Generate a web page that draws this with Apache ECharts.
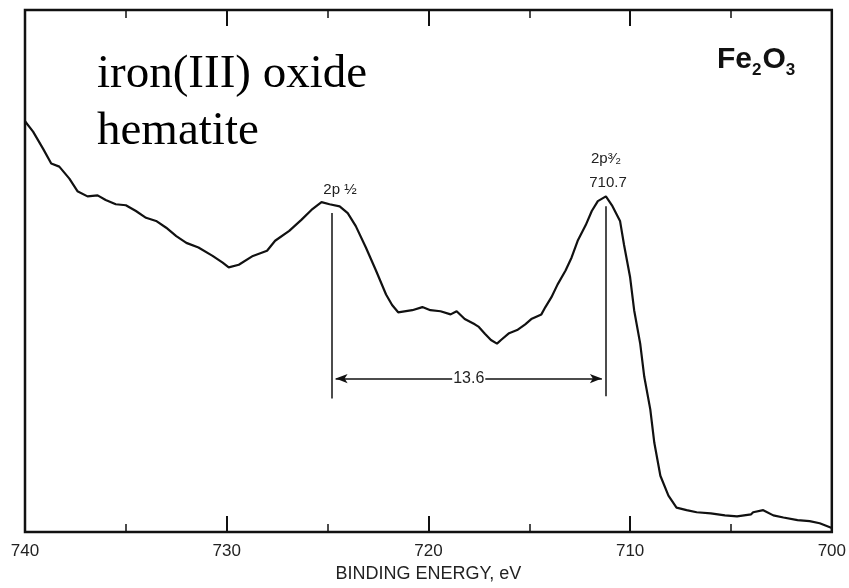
<!DOCTYPE html>
<html>
<head>
<meta charset="utf-8">
<script src="https://cdn.jsdelivr.net/npm/echarts@6/dist/echarts.min.js"></script>
<style>html,body{margin:0;padding:0;background:#fff;}#c{width:849px;height:588px;}</style>
</head>
<body>
<div id="c"></div>
<script>
// Binding energy (eV) and intensity (arbitrary units, 0-100)
var energy = [740.0,739.6,739.1,738.7,738.3,737.8,737.4,736.9,736.4,736.0,735.5,735.0,734.5,734.0,733.5,733.0,732.5,732.0,731.4,730.7,730.2,729.9,729.4,728.7,728.0,727.6,726.9,726.3,725.8,725.3,724.9,724.4,724.0,723.6,723.1,722.6,722.1,721.8,721.5,720.8,720.3,719.9,719.4,718.9,718.6,718.2,717.7,717.5,717.2,716.9,716.6,716.4,716.0,715.6,715.2,714.9,714.4,714.2,713.9,713.6,713.2,712.9,712.6,712.2,711.9,711.6,711.2,710.9,710.5,710.3,710.0,709.8,709.5,709.3,709.0,708.8,708.5,708.1,707.7,707.2,706.7,706.0,705.3,704.7,704.0,703.9,703.4,702.9,702.4,701.7,701.1,700.6,700.0];
var intensity = [78.7,76.7,73.4,70.6,70.0,67.7,65.3,64.3,64.5,63.6,62.8,62.6,61.5,60.2,59.6,58.3,56.7,55.4,54.5,52.9,51.6,50.7,51.2,52.9,53.9,55.8,57.7,59.8,61.7,63.2,62.8,62.4,61.1,58.6,54.5,50.1,45.5,43.5,42.1,42.5,43.1,42.5,42.3,41.7,42.3,40.8,39.8,39.3,38.0,36.8,36.1,36.8,38.1,38.7,39.8,40.8,41.7,43.1,45.0,47.4,50.1,52.6,55.8,58.8,61.5,63.4,64.3,62.6,59.6,55.0,48.8,42.5,36.1,29.8,23.5,17.1,10.8,7.0,4.7,4.2,3.8,3.6,3.2,3.0,3.4,3.8,4.2,3.2,2.8,2.3,2.1,1.7,0.8];
var xTicks = [740, 730, 720, 710, 700];
// peak markers: [energy, bottom, top]
var peakLines = [[724.8, 25.6, 61.1], [711.2, 26.0, 62.4]];
// splitting arrow: [from energy, to energy, level, label]
var splitArrow = [724.6, 711.4, 29.4, '13.6'];

var chart = echarts.init(document.getElementById('c'), null, {renderer: 'canvas'});
var ink = '#111';
var tickFont = {color: '#222', fontSize: 17, fontFamily: 'Liberation Sans'};
var xBase = {
  type: 'value', min: 700, max: 740, interval: 10, inverse: true,
  axisLine: {show: false},
  axisTick: {show: true, inside: true, length: 16, lineStyle: {color: ink, width: 2}},
  minorTick: {show: true, splitNumber: 2, length: 8, lineStyle: {color: ink, width: 1.5}},
  splitLine: {show: false}, minorSplitLine: {show: false}
};
var option = {
  animation: false,
  backgroundColor: '#fff',
  grid: {left: 25, right: 14, top: 10, bottom: 46, show: true, borderColor: ink, borderWidth: 2.5, backgroundColor: 'transparent'},
  xAxis: [
    Object.assign({}, xBase, {
      position: 'bottom',
      axisLabel: Object.assign({show: true, margin: 11, formatter: function (v) { return xTicks.indexOf(v) >= 0 ? String(v) : ''; }}, tickFont),
      name: 'BINDING ENERGY, eV', nameLocation: 'middle', nameGap: 32,
      nameTextStyle: {color: '#222', fontSize: 18, fontFamily: 'Liberation Sans'}
    }),
    Object.assign({}, xBase, {position: 'top', axisLabel: {show: false}})
  ],
  yAxis: {type: 'value', min: 0, max: 100, axisLine: {show: false}, axisTick: {show: false}, axisLabel: {show: false}, splitLine: {show: false}},
  series: [{
    type: 'line', xAxisIndex: 0,
    data: energy.map(function (e, i) { return [e, intensity[i]]; }),
    showSymbol: false, smooth: false,
    lineStyle: {color: ink, width: 2.2},
    markLine: {
      silent: true, symbol: ['none', 'none'],
      lineStyle: {color: ink, width: 1.5, type: 'solid'},
      label: {show: false},
      data: peakLines.map(function (p) {
        return [{coord: [p[0], p[1]]}, {coord: [p[0], p[2]]}];
      }).concat([[
        {coord: [splitArrow[0], splitArrow[2]], symbol: 'arrow', symbolSize: [7, 12]},
        {coord: [splitArrow[1], splitArrow[2]], symbol: 'arrow', symbolSize: [7, 12],
         label: {show: true, position: 'middle', formatter: splitArrow[3], color: '#222', fontSize: 16, fontFamily: 'Liberation Sans', backgroundColor: '#fff', padding: [1, 1], distance: 0, offset: [0, 9]}}
      ]])
    }
  }],
  graphic: [
    {type: 'text', style: {text: 'iron(III) oxide', x: 97, y: 75, font: '47px "Liberation Serif"', fill: '#000', verticalAlign: 'middle'}},
    {type: 'text', style: {text: 'hematite', x: 97, y: 132, font: '47px "Liberation Serif"', fill: '#000', verticalAlign: 'middle'}},
    {type: 'text', style: {x: 717, y: 60, verticalAlign: 'middle', text: '{m|Fe}{s|2}{m|O}{s|3}',
      rich: {m: {fontSize: 30, fontWeight: 'bold', fontFamily: 'Liberation Sans', fill: '#111', verticalAlign: 'bottom'},
             s: {fontSize: 17, fontWeight: 'bold', fontFamily: 'Liberation Sans', fill: '#111', verticalAlign: 'bottom', padding: [0, 1, -4, 0]}}}},
    {type: 'text', style: {text: '2p ½', x: 340, y: 190, font: '15px "Liberation Sans"', fill: '#222', align: 'center', verticalAlign: 'middle'}},
    {type: 'text', style: {text: '2p³⁄₂', x: 606, y: 159, font: '15px "Liberation Sans"', fill: '#222', align: 'center', verticalAlign: 'middle'}},
    {type: 'text', style: {text: '710.7', x: 608, y: 183, font: '15px "Liberation Sans"', fill: '#222', align: 'center', verticalAlign: 'middle'}}
  ]
};
chart.setOption(option);
</script>
</body>
</html>
